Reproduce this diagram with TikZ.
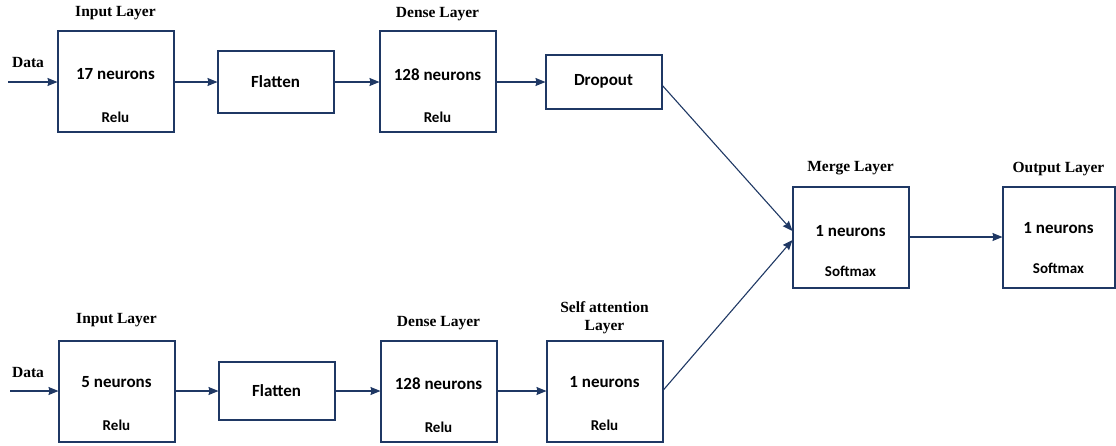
\documentclass[tikz,border=0pt]{standalone}
\usepackage{fontspec}
\setmainfont{Liberation Serif}
\newfontfamily\boxfont{Carlito}
\usetikzlibrary{arrows.meta, positioning}

\definecolor{navy}{HTML}{1F3864}

\begin{document}
\begin{tikzpicture}[x=1pt, y=-1pt, >={Stealth[length=10pt,width=8pt,inset=1pt]}]
  \tikzset{
    layer/.style={
      draw=navy,
      line width=2pt,
      minimum width=116pt,
      minimum height=101pt,
      inner sep=0pt,
      outer sep=0pt},
    flat/.style={
      layer,
      minimum height=62pt},
    drop/.style={
      layer,
      minimum height=54pt},
    title/.style={
      font=\fontsize{15.5}{18}\selectfont\bfseries,
      align=center,
      inner sep=0pt},
    unit/.style={
      font=\boxfont\fontsize{17}{19}\selectfont\bfseries,
      inner sep=0pt},
    act/.style={
      font=\boxfont\fontsize{15}{17}\selectfont\bfseries,
      inner sep=0pt},
    flow/.style={
      ->,
      draw=navy,
      line width=1.1pt}}

  \useasboundingbox (0,0) rectangle (1116,445);

  % upper branch
  \node[layer] (in1) at (115.5,81.5) {};
  \node[flat] (fl1) [right=44pt of in1] {};
  \node[layer] (dn1) [right=46pt of fl1] {};
  \node[drop] (dr1) [right=50pt of dn1] {};

  \node[title] (in1t) at ([yshift=18pt]in1.north) {Input Layer};
  \node[unit] (in1u) at ([yshift=7pt]in1.center) {17 neurons};
  \node[act] (in1a) at ([yshift=15pt]in1.south) {Relu};
  \node[unit] (fl1u) at (fl1.center) {Flatten};
  \node[title] (dn1t) at ([yshift=17pt]dn1.north) {Dense Layer};
  \node[unit] (dn1u) at ([yshift=7pt]dn1.center) {128 neurons};
  \node[act] (dn1a) at ([yshift=15pt]dn1.south) {Relu};
  \node[unit] (dr1u) at (dr1.center) {Dropout};

  \coordinate (src1) at (8,82);
  \node[title] (data1) at (28,62) {Data};

  % lower branch
  \node[layer] (in2) at (116.5,391) {};
  \node[flat, minimum height=58pt] (fl2) [right=44pt of in2] {};
  \node[layer] (dn2) [right=46pt of fl2] {};
  \node[layer] (sa2) [right=50pt of dn2] {};

  \node[title] (in2t) at ([yshift=20pt]in2.north) {Input Layer};
  \node[unit] (in2u) at ([yshift=9pt]in2.center) {5 neurons};
  \node[act] (in2a) at ([yshift=16pt]in2.south) {Relu};
  \node[unit] (fl2u) at (fl2.center) {Flatten};
  \node[title] (dn2t) at ([yshift=17pt]dn2.north) {Dense Layer};
  \node[unit] (dn2u) at ([yshift=7pt]dn2.center) {128 neurons};
  \node[act] (dn2a) at ([yshift=14pt]dn2.south) {Relu};
  \node[title] (sa2t) at ([yshift=23pt]sa2.north) {Self attention\\Layer};
  \node[unit] (sa2u) at ([yshift=9pt]sa2.center) {1 neurons};
  \node[act] (sa2a) at ([yshift=16pt]sa2.south) {Relu};

  \coordinate (src2) at (10,391);
  \node[title] (data2) at (28,372) {Data};

  % merge and output
  \node[layer] (mrg) at (850.5,237) {};
  \node[layer, minimum width=112pt] (out) [right=94pt of mrg] {};

  \node[title] (mrgt) at ([yshift=18pt]mrg.north) {Merge Layer};
  \node[unit] (mrgu) at ([yshift=6pt]mrg.center) {1 neurons};
  \node[act] (mrga) at ([yshift=16pt]mrg.south) {Softmax};
  \node[title] (outt) at ([yshift=17pt]out.north) {Output Layer};
  \node[unit] (outu) at ([yshift=9pt]out.center) {1 neurons};
  \node[act] (outa) at ([yshift=19pt]out.south) {Softmax};

  % connections
  \draw[flow] (src1) -- (src1 -| in1.west);
  \draw[flow] (in1.east |- src1) -- (src1 -| fl1.west);
  \draw[flow] (fl1.east |- src1) -- (src1 -| dn1.west);
  \draw[flow] (dn1.east |- src1) -- (src1 -| dr1.west);

  \draw[flow] (src2) -- (src2 -| in2.west);
  \draw[flow] (in2.east |- src2) -- (src2 -| fl2.west);
  \draw[flow] (fl2.east |- src2) -- (src2 -| dn2.west);
  \draw[flow] (dn2.east |- src2) -- (src2 -| sa2.west);

  \draw[flow] ([yshift=-3pt]dr1.east) -- ([yshift=6pt]mrg.west);
  \draw[flow] (sa2.east) -- ([yshift=-3pt]mrg.west);
  \draw[flow] (mrg.east) -- (mrg.east -| out.west);

\end{tikzpicture}
\end{document}
